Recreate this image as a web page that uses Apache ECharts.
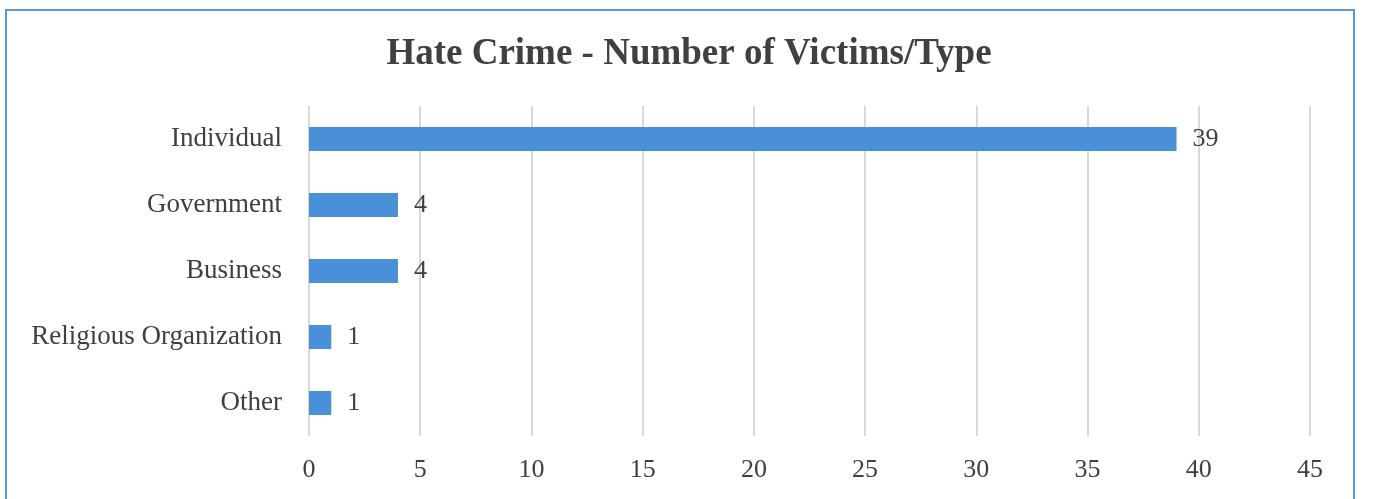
<!DOCTYPE html>
<html><head><meta charset="utf-8">
<script src="https://cdn.jsdelivr.net/npm/echarts@6/dist/echarts.min.js"></script>
<style>html,body{margin:0;padding:0;background:#fff}#c{width:1378px;height:499px}</style>
</head><body><div id="c"></div>
<script>
const categories = ['Individual', 'Government', 'Business', 'Religious Organization', 'Other'];
const values = [39, 4, 4, 1, 1];
const titleText = 'Hate Crime - Number of Victims/Type';

const chart = echarts.init(document.getElementById('c'), null, {renderer: 'canvas'});
const serif = '"Liberation Serif", "DejaVu Serif", serif';
chart.setOption({
  animation: false,
  backgroundColor: '#ffffff',
  title: {
    text: titleText, left: 'center', top: 31,
    textStyle: {fontFamily: serif, fontWeight: 'bold', fontSize: 37, color: '#404040'}
  },
  graphic: [{
    type: 'rect', silent: true, z: -1,
    shape: {x: 6, y: 10, width: 1348, height: 600},
    style: {fill: 'none', stroke: '#5b9bd5', lineWidth: 2}
  }],
  grid: {left: 309, right: 68, top: 106, bottom: 63, containLabel: false},
  xAxis: {
    type: 'value', min: 0, max: 45, interval: 5,
    axisLine: {show: false}, axisTick: {show: false},
    splitLine: {show: true, lineStyle: {color: '#d9d9d9', width: 2}},
    axisLabel: {fontFamily: serif, fontSize: 26, color: '#404040', margin: 21}
  },
  yAxis: {
    type: 'category', data: categories, inverse: true,
    axisLine: {show: false}, axisTick: {show: false},
    axisLabel: {fontFamily: serif, fontSize: 27, color: '#404040', margin: 27, padding: [3, 0, 0, 0]}
  },
  series: [{
    type: 'bar', data: values, barWidth: 24,
    itemStyle: {color: '#4a90d9'},
    label: {show: true, position: 'right', distance: 16, fontFamily: serif, fontSize: 26, color: '#404040', padding: [3, 0, 0, 0]}
  }]
});
</script></body></html>
